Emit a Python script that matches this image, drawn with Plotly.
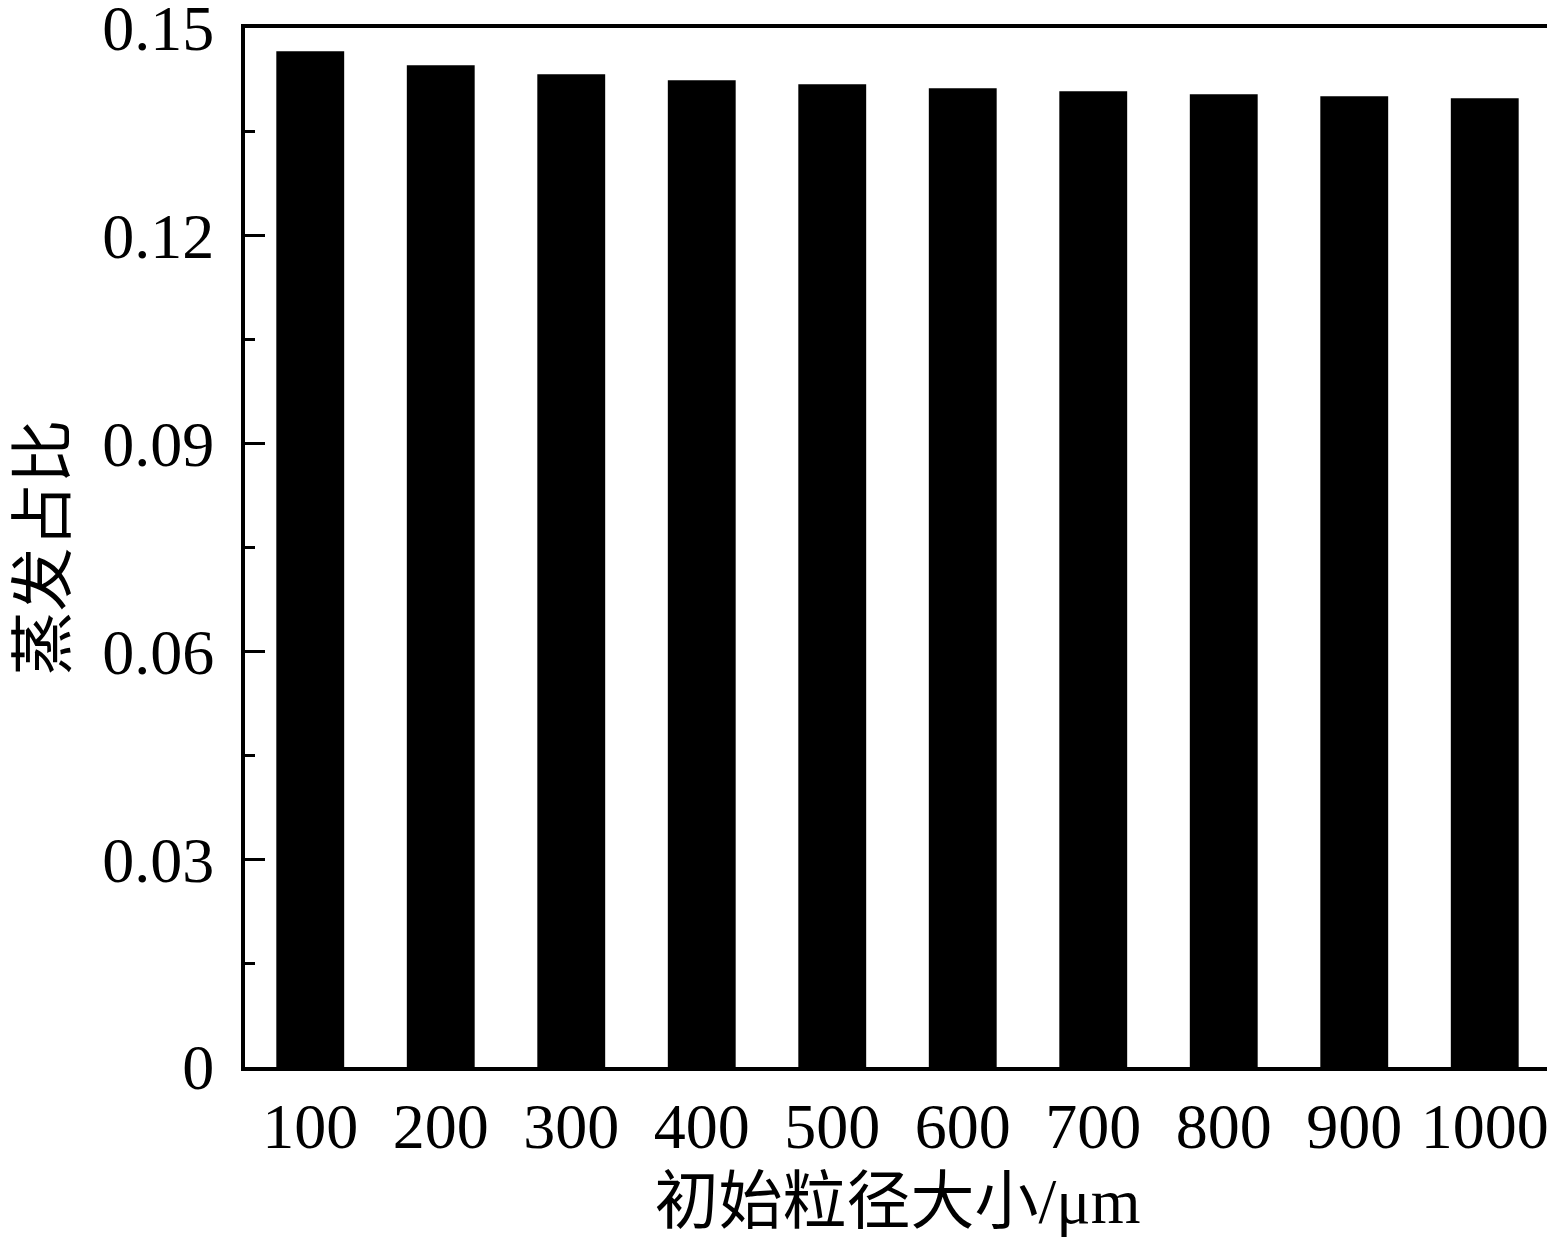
import plotly.graph_objects as go

categories = ["100", "200", "300", "400", "500", "600", "700", "800", "900", "1000"]
values = [0.14665, 0.14463, 0.14333, 0.14246, 0.14189, 0.14131, 0.14088, 0.14044, 0.14016, 0.13987]
y_ticks = [0, 0.03, 0.06, 0.09, 0.12, 0.15]
y_ticktext = ["0", "0.03", "0.06", "0.09", "0.12", "0.15"]

FONT = "Liberation Serif, Times New Roman, Noto Sans CJK SC, serif"

fig = go.Figure(go.Bar(x=categories, y=values, marker=dict(color="black", line=dict(width=0))))

fig.update_layout(
    width=1547, height=1230,
    margin=dict(l=237, r=5, t=20, b=171, autoexpand=False),
    paper_bgcolor="white", plot_bgcolor="white",
    bargap=0.48,
    showlegend=False,
    font=dict(family=FONT, size=64, color="black"),
)
fig.update_xaxes(
    type="category",
    automargin=False,
    showline=True, linecolor="black", linewidth=4, mirror=True,
    ticks="", showgrid=False,
    tickfont=dict(family=FONT, size=64),
    ticklabeloverflow="allow",
    title=dict(text="初始粒径大小/μm", font=dict(family=FONT, size=64), standoff=18),
)
fig.update_yaxes(
    range=[0, 0.15],
    automargin=False,
    showline=True, linecolor="black", linewidth=4, mirror=True,
    showgrid=False, zeroline=False,
    tickmode="array", tickvals=y_ticks, ticktext=y_ticktext,
    ticks="inside", ticklen=20, tickwidth=3, tickcolor="black",
    minor=dict(ticks="inside", ticklen=10, tickwidth=3, tickcolor="black", dtick=0.015, tick0=0, showgrid=False),
    ticklabelstandoff=14,
    ticklabeloverflow="allow",
    tickfont=dict(family=FONT, size=64),
    title=dict(text="蒸发占比", font=dict(family=FONT, size=64), standoff=34),
)

fig.write_html("out.html")
